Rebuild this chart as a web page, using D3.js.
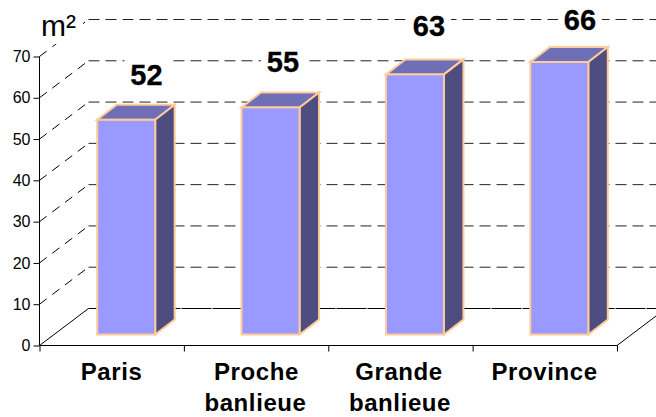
<!DOCTYPE html>
<html><head><meta charset="utf-8"><script src="https://cdn.jsdelivr.net/npm/d3@7"></script>
<style>html,body{margin:0;background:#fff}svg{display:block}text{font-family:"Liberation Sans",Arial,sans-serif;fill:#000}</style>
</head><body><svg id="c" width="656" height="417"></svg>
<script>
const categories = [["Paris"],["Proche","banlieue"],["Grande","banlieue"],["Province"]];
const values = [52,55,63,66];
const yTicks = [0,10,20,30,40,50,60,70];
const unit = "m²";

const svg = d3.select("#c");
const x = d3.scaleBand().domain(d3.range(categories.length)).range([39.5,617]);
const y = d3.scaleLinear().domain([0,70]).range([345.5,56.5]);
const wall = {dx:49, dy:-37};
const front = {dx:14.5, dy:-11};
const depth = {dx:19.5, dy:-15};
const barW = 58;
const clr = "#000";

// grid
yTicks.forEach(t=>{
  const yy=y(t);
  if(t>0){
    svg.append("line").attr("x1",x.range()[0]).attr("y1",yy).attr("x2",x.range()[0]+wall.dx).attr("y2",yy+wall.dy)
      .attr("stroke",clr).attr("stroke-width",1).attr("stroke-dasharray","9 7");
  }
  svg.append("line").attr("x1",x.range()[0]+wall.dx).attr("y1",yy+wall.dy).attr("x2",656).attr("y2",yy+wall.dy)
    .attr("stroke",t===0?"#000":"#222").attr("stroke-width",1).attr("stroke-dasharray",t===0?"30 1":"11 6");
});
// floor
svg.append("path").attr("fill","none").attr("stroke","#000")
  .attr("d",`M39.5,345.5L${39.5+wall.dx},${345.5+wall.dy}`);
svg.append("path").attr("fill","none").attr("stroke","#000")
  .attr("d",`M617,345.5L${617+wall.dx},${345.5+wall.dy}`);

// axes
const yAxis=d3.axisLeft(y).tickValues(yTicks).tickSize(6).tickPadding(3);
const gy=svg.append("g").attr("transform","translate(39.5,0)").call(yAxis);
gy.select(".domain").attr("d",`M0,${y(70)}V${y(0)}`);
gy.selectAll("text").style("font-size","16px").style("font-family",'"Liberation Sans"');
const tickX=d3.range(categories.length+1).map(i=>39.5+i*x.step());
const gx=svg.append("g").attr("transform","translate(0,345.5)")
  .call(d3.axisBottom(d3.scaleLinear().domain([39.5,617]).range([39.5,617])).tickValues(tickX).tickSize(6).tickFormat(""));
gx.select(".domain").attr("d","M39.5,0H617");

// bars
values.forEach((v,i)=>{
  const g=svg.append("g").attr("stroke","#FFCC99").attr("stroke-width",2).attr("stroke-linejoin","miter");
  const cx=x(i)+x.bandwidth()/2+front.dx;
  const l=cx-barW/2, r=cx+barW/2;
  const b=y(0)+front.dy, t=y(v)+front.dy;
  const pts=a=>a.map(p=>p.join(",")).join(" ");
  g.append("polygon").attr("fill","#6F6FB8").attr("points",pts([[l,t],[r,t],[r+depth.dx,t+depth.dy],[l+depth.dx,t+depth.dy]]));
  g.append("polygon").attr("fill","#4D4D80").attr("points",pts([[r,t],[r+depth.dx,t+depth.dy],[r+depth.dx,b+depth.dy],[r,b]]));
  g.append("rect").attr("fill","#9999FF").attr("x",l).attr("y",t).attr("width",barW).attr("height",b-t);
});

// value labels, each on a white box that hides the grid behind it
const labelPos = [{x:146.5,y:85},{x:283,y:72},{x:429,y:36},{x:580,y:30}];
values.forEach((v,i)=>{
  svg.append("rect").attr("x",labelPos[i].x-22).attr("y",labelPos[i].y-27).attr("width",44).attr("height",32).attr("fill","#fff");
  svg.append("text").attr("x",labelPos[i].x).attr("y",labelPos[i].y).attr("text-anchor","middle")
    .style("font-size","29px").style("font-weight","bold").style("stroke","#000").style("stroke-width","0.3px").text(v);
});

// category labels
const catX=[[111.5],[256.5,255.5],[399,400],[544.5]];
categories.forEach((c,i)=>{
  c.forEach((s,j)=>svg.append("text").attr("x",catX[i][j]).attr("y",380+j*31).attr("text-anchor","middle")
    .style("font-size","24px").style("font-weight","bold").style("letter-spacing","0.6px").text(s));
});

svg.append("rect").attr("x",41).attr("y",10).attr("width",42).attr("height",34).attr("fill","#fff");
svg.append("text").attr("x",41).attr("y",36).style("font-size","30px").text(unit);
</script></body></html>
